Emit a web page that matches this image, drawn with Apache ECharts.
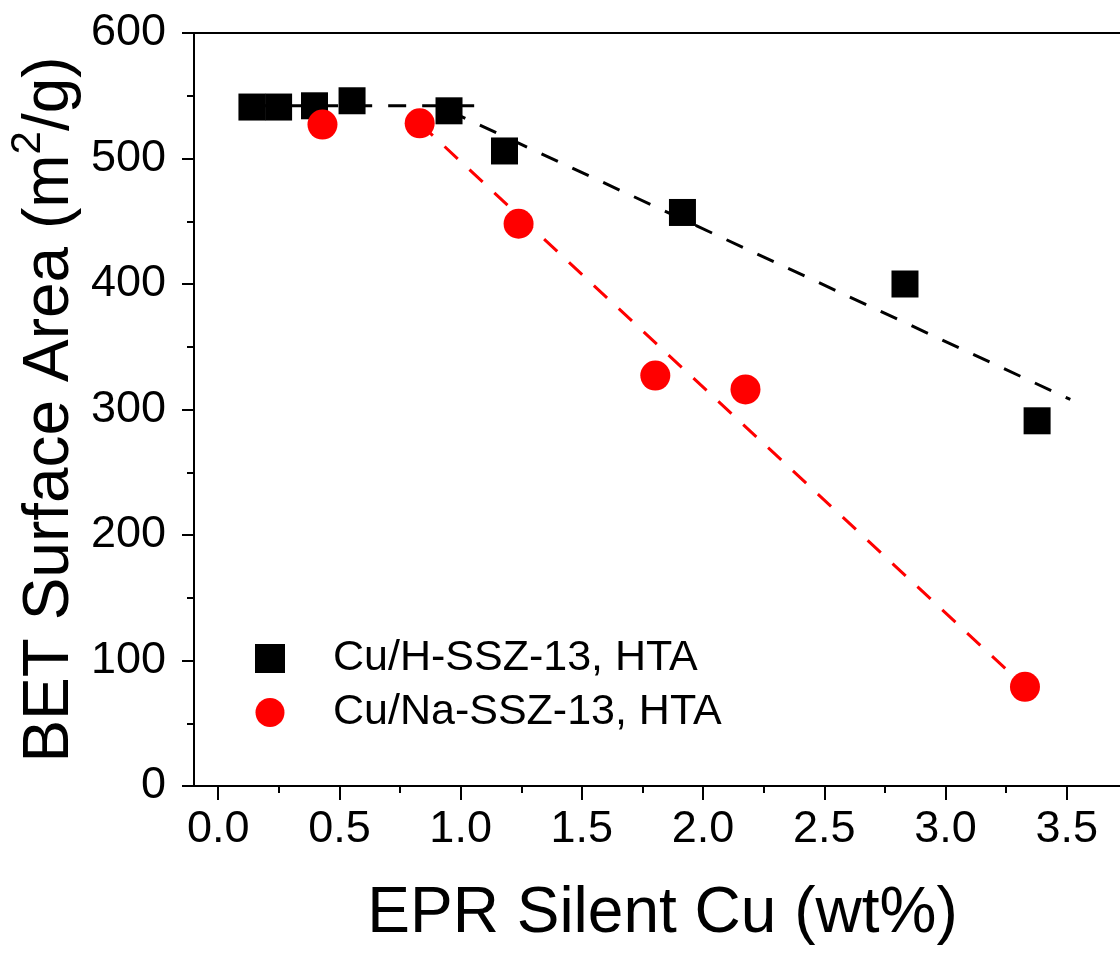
<!DOCTYPE html>
<html>
<head>
<meta charset="utf-8">
<script src="https://cdn.jsdelivr.net/npm/echarts@6/dist/echarts.min.js"></script>
<style>
  html, body { margin: 0; padding: 0; background: #fff; }
  #chart { width: 1120px; height: 953px; }
</style>
</head>
<body>
<div id="chart"></div>
<script>
// Cu/H-SSZ-13 after hydrothermal aging: EPR silent Cu (wt%) vs BET surface area (m2/g)
const hX = [0.139, 0.249, 0.397, 0.552, 0.952, 1.181, 1.915, 2.833, 3.378];
const hY = [541, 541, 542, 546, 538, 506, 457, 400, 291];

// Cu/Na-SSZ-13 after hydrothermal aging
const naX = [0.430, 0.831, 1.239, 1.803, 2.175, 3.328];
const naY = [527, 528, 448, 327, 316, 79];

// Dashed trend lines (segment end points)
const hFlatX = [0.14, 1.085];
const hFlatY = [542, 542];
const hSlopeX = [0.952, 3.515];
const hSlopeY = [538, 308];
const naSlopeX = [0.831, 3.328];
const naSlopeY = [528, 79];

// Axis ticks
const xMajorTicks = [0, 0.5, 1.0, 1.5, 2.0, 2.5, 3.0, 3.5];
const xMinorTicks = [0.25, 0.75, 1.25, 1.75, 2.25, 2.75, 3.25];
const yTicks = [0, 100, 200, 300, 400, 500, 600];

const seriesNames = ['Cu/H-SSZ-13, HTA', 'Cu/Na-SSZ-13, HTA'];

const FONT = "'Liberation Sans', Arial, Helvetica, sans-serif";
const zip = (xs, ys) => xs.map((x, i) => [x, ys[i]]);

const X_MIN = -0.1, X_MAX = 3.72;

const chart = echarts.init(document.getElementById('chart'), null, { renderer: 'canvas' });

const dashLine = (name, xs, ys, color) => ({
  name: name,
  type: 'line',
  data: zip(xs, ys),
  showSymbol: false,
  symbol: 'none',
  silent: true,
  z: 1,
  lineStyle: { color: color, width: 3, type: [18, 16] },
  animation: false
});

chart.setOption({
  animation: false,
  backgroundColor: '#ffffff',
  textStyle: { fontFamily: FONT },
  grid: { left: 194, right: 0, top: 33, bottom: 167, containLabel: false, outerBoundsMode: 'none' },
  legend: {
    data: seriesNames,
    orient: 'vertical',
    left: 255,
    top: 637,
    padding: 0,
    itemWidth: 30,
    itemHeight: 29,
    itemGap: 11,
    textStyle: { fontSize: 43, color: '#000', fontFamily: FONT, padding: [0, 0, 0, 43] },
    selectedMode: false
  },
  xAxis: [
    {
      type: 'value', min: X_MIN, max: X_MAX, position: 'bottom',
      name: 'EPR Silent Cu (wt%)', nameLocation: 'middle', nameGap: 96, nameMoveOverlap: false,
      nameTextStyle: { fontSize: 64, color: '#000', fontFamily: FONT, padding: [0, 0, 0, 11] },
      axisLine: { show: true, onZero: false, lineStyle: { color: '#000', width: 2 } },
      axisTick: { show: true, customValues: xMajorTicks, length: 14, lineStyle: { color: '#000', width: 2 } },
      axisLabel: {
        customValues: xMajorTicks, fontSize: 45, color: '#000', margin: 21, fontFamily: FONT,
        formatter: v => Number(v).toFixed(1)
      },
      splitLine: { show: false }
    },
    {
      type: 'value', min: X_MIN, max: X_MAX, position: 'bottom',
      axisLine: { show: false },
      axisTick: { show: true, customValues: xMinorTicks, length: 7, lineStyle: { color: '#000', width: 2 } },
      axisLabel: { show: false },
      splitLine: { show: false }
    },
    {
      type: 'value', min: X_MIN, max: X_MAX, position: 'top',
      axisLine: { show: true, onZero: false, lineStyle: { color: '#000', width: 2 } },
      axisTick: { show: false },
      axisLabel: { show: false },
      splitLine: { show: false }
    }
  ],
  yAxis: [
    {
      type: 'value', min: yTicks[0], max: yTicks[yTicks.length - 1], interval: 100, position: 'left',
      name: '{t|BET Surface Area (m}{s|2}{t|/g)}', nameLocation: 'middle', nameGap: 112, nameRotate: 90,
      nameMoveOverlap: false,
      nameTextStyle: {
        color: '#000', fontFamily: FONT,
        rich: {
          t: { fontSize: 64, color: '#000', fontFamily: FONT, lineHeight: 64 },
          s: { fontSize: 42, color: '#000', fontFamily: FONT, lineHeight: 42, padding: [0, 0, 43, 0] }
        }
      },
      axisLine: { show: true, onZero: false, lineStyle: { color: '#000', width: 2 } },
      axisTick: { show: true, length: 12, lineStyle: { color: '#000', width: 2 } },
      minorTick: { show: true, splitNumber: 2, length: 7, lineStyle: { color: '#000', width: 2 } },
      axisLabel: { fontSize: 45, color: '#000', margin: 28, fontFamily: FONT },
      splitLine: { show: false },
      minorSplitLine: { show: false }
    }
  ],
  series: [
    dashLine('hFlat', hFlatX, hFlatY, '#000000'),
    dashLine('hSlope', hSlopeX, hSlopeY, '#000000'),
    dashLine('naSlope', naSlopeX, naSlopeY, '#ff0000'),
    {
      name: seriesNames[0],
      type: 'scatter',
      data: zip(hX, hY),
      symbol: 'rect',
      symbolSize: 27,
      itemStyle: { color: '#000000', opacity: 1 },
      z: 3
    },
    {
      name: seriesNames[1],
      type: 'scatter',
      data: zip(naX, naY),
      symbol: 'circle',
      symbolSize: 30,
      itemStyle: { color: '#ff0000', opacity: 1 },
      z: 4
    }
  ]
});
</script>
</body>
</html>
